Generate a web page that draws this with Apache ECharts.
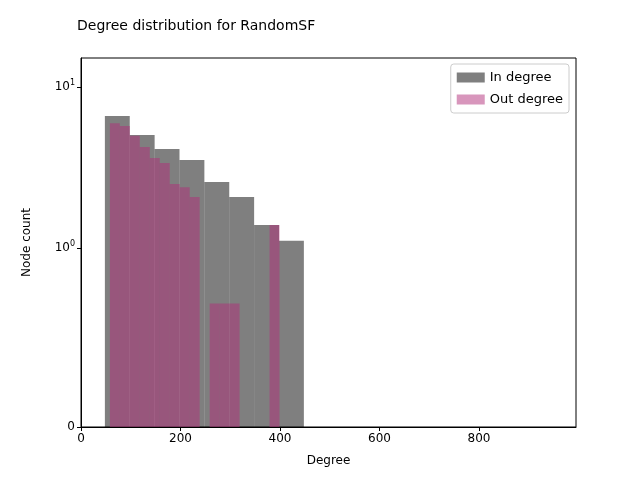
<!DOCTYPE html>
<html><head><meta charset="utf-8">
<script src="https://cdn.jsdelivr.net/npm/echarts@6/dist/echarts.min.js"></script>
<style>html,body{margin:0;background:#fff}#c{width:640px;height:480px}</style>
</head><body><div id="c"></div>
<script>
// histogram bins: [start, end) in degree units
const inStart = 48, inWidth = 50;
const inCounts = [6.62, 5.04, 4.13, 3.53, 2.57, 2.08, 1.39, 1.11];
const outStart = 58, outWidth = 20.06;
const outCounts = [5.96, 5.74, 4.99, 4.25, 3.63, 3.38, 2.50, 2.39, 2.08, 0, 0.69, 0.69, 0.69, 0, 0, 0, 1.39];
const yTicks = [0, 1, 10];

// symlog (linthresh 1, linscale 1, base 10)
const LS = 1 / (1 - 0.1);
const symlog = v => v >= 1 ? Math.log10(v) + LS : v * LS;

function bins(start, width, counts) {
  return counts.map((c, i) => [start + i * width, start + (i + 1) * width, symlog(c)]).filter(d => d[2] > 0);
}

function hist(name, data, color) {
  return {
    name, type: 'custom', data, itemStyle: { color },
    encode: { x: [0, 1], y: 2 },
    renderItem: (params, api) => {
      const p0 = api.coord([api.value(0), api.value(2)]);
      const p1 = api.coord([api.value(1), 0]);
      return { type: 'rect', shape: { x: p0[0], y: p0[1], width: p1[0] - p0[0], height: p1[1] - p0[1] },
        style: { fill: color } };
    }
  };
}

const chart = echarts.init(document.getElementById('c'));
const font = 'DejaVu Sans';
chart.setOption({
  animation: false,
  textStyle: { fontFamily: font },
  title: { text: 'Degree distribution for RandomSF', left: 72, top: 14,
    textStyle: { fontFamily: font, fontSize: 14, fontWeight: 'normal', color: '#000' } },
  legend: {
    orient: 'vertical', right: 71, top: 64, itemWidth: 28, itemHeight: 10, itemGap: 9,
    borderColor: '#ccc', borderWidth: 1, borderRadius: 3, padding: [7, 6, 7, 6],
    icon: 'rect', textStyle: { fontFamily: font, fontSize: 13, color: '#000' },
    data: ['In degree', 'Out degree']
  },
  grid: { left: 81, right: 64, top: 58, bottom: 53 },
  xAxis: {
    type: 'value', min: 0, max: 995, interval: 200,
    name: 'Degree', nameLocation: 'middle', nameGap: 28,
    nameTextStyle: { fontFamily: font, fontSize: 12, color: '#000' },
    axisLine: { onZero: false, lineStyle: { color: '#000' } },
    axisTick: { show: true, length: 4, inside: false, lineStyle: { color: '#000' } },
    axisLabel: { showMaxLabel: false, color: '#000', fontSize: 12, margin: 6 },
    splitLine: { show: false }
  },
  yAxis: {
    type: 'value', min: 0, max: 2.292,
    name: 'Node count', nameLocation: 'middle', nameGap: 48,
    nameTextStyle: { fontFamily: font, fontSize: 12, color: '#000' },
    axisLine: { show: true, lineStyle: { color: '#000' } },
    axisTick: { show: true, length: 4, lineStyle: { color: '#000' }, customValues: yTicks.map(symlog) },
    axisLabel: {
      color: '#000', fontSize: 12, margin: 6,
      customValues: yTicks.map(symlog),
      formatter: v => {
        if (v < 0.5) return '0';
        const e = Math.round(v - LS);
        return '10{s|' + e + '}';
      },
      rich: { s: { fontSize: 8, verticalAlign: 'top', padding: [0, 0, 8, 0], color: '#000' } }
    },
    splitLine: { show: false }
  },
  series: [
    hist('In degree', bins(inStart, inWidth, inCounts), 'rgba(0,0,0,0.5)'),
    hist('Out degree', bins(outStart, outWidth, outCounts), 'rgba(177,45,121,0.5)')
  ]
});
// top/right spines
chart.setOption({ graphic: [{ type: 'rect', shape: { x: 81, y: 58, width: 495, height: 369 },
  style: { fill: 'none', stroke: '#000', lineWidth: 1 }, silent: true }] });
</script></body></html>
